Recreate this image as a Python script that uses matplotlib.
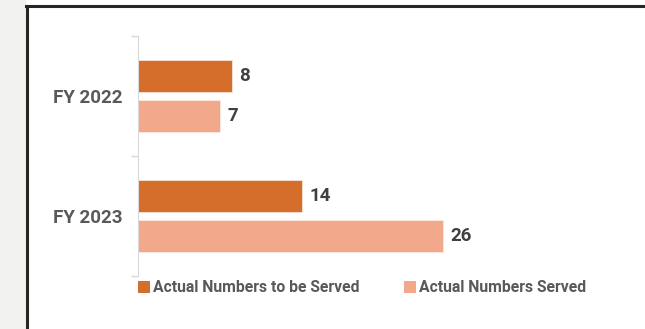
import matplotlib.pyplot as plt
from matplotlib.patches import Rectangle, Patch
from matplotlib.lines import Line2D

categories = ['FY 2022', 'FY 2023']
to_be_served = [8, 14]
served = [7, 26]
series_names = ['Actual Numbers to be Served', 'Actual Numbers Served']
colors = ['#D46E2A', '#F2A88B']

plt.rcParams['font.family'] = ['Roboto', 'DejaVu Sans']

W, H = 645, 329
fig = plt.figure(figsize=(W / 100, H / 100), dpi=100)

# grey strip on the left and the black frame
fig.patches.append(Rectangle((0, 0), 26 / W, 1, transform=fig.transFigure,
                             facecolor='#F2F2F0', edgecolor='none', zorder=0))
fig.lines.append(Line2D([27 / W, 27 / W], [0, 1 - 6 / H], transform=fig.transFigure,
                        color='#262626', lw=2.2))
fig.lines.append(Line2D([26 / W, 1], [1 - 6 / H, 1 - 6 / H], transform=fig.transFigure,
                        color='#262626', lw=2.2))

# axes: x from 138px, y from 36px to 276px
ax = fig.add_axes([138 / W, 1 - 276 / H, 462 / W, 240 / H])
ax.set_xlim(0, 462 / 11.73)
ax.set_ylim(2, 0)

centers = [0.5, 1.5]
bh = 32 / 120
off = 20 / 120
ax.barh([c - off for c in centers], to_be_served, height=bh, color=colors[0],
        edgecolor='#F8E3D6', linewidth=0.6, label=series_names[0])
ax.barh([c + off for c in centers], served, height=bh, color=colors[1],
        edgecolor='#FBE8E0', linewidth=0.6, label=series_names[1])

for c, a, b in zip(centers, to_be_served, served):
    ax.text(a + 0.6, c - off, str(a), va='center', ha='left', fontsize=13.5,
            fontweight='bold', color='#404040')
    ax.text(b + 0.6, c + off, str(b), va='center', ha='left', fontsize=13.5,
            fontweight='bold', color='#404040')

ax.set_yticks([0, 1, 2])
ax.set_yticklabels([])
ax.set_yticks(centers, minor=True)
ax.set_yticklabels(categories, minor=True, fontsize=13.5, fontweight='bold', color='#595959')
ax.tick_params(axis='y', which='major', length=5, color='#D9D9D9', width=1)
ax.tick_params(axis='y', which='minor', length=0, pad=11.5)
ax.set_xticks([])
for s in ['top', 'right', 'bottom']:
    ax.spines[s].set_visible(False)
ax.spines['left'].set_color('#D9D9D9')

handles = [Patch(facecolor=colors[0]), Patch(facecolor=colors[1])]
leg = fig.legend(handles, series_names, ncol=2, loc='center left',
                 bbox_to_anchor=(124 / W, 1 - 288 / H), frameon=False,
                 handlelength=0.75, handleheight=0.75, handletextpad=0.2,
                 columnspacing=2.85,
                 prop={'size': 11.3, 'weight': 'bold'})
for t in leg.get_texts():
    t.set_color('#595959')

fig.savefig('out.png', dpi=100)
